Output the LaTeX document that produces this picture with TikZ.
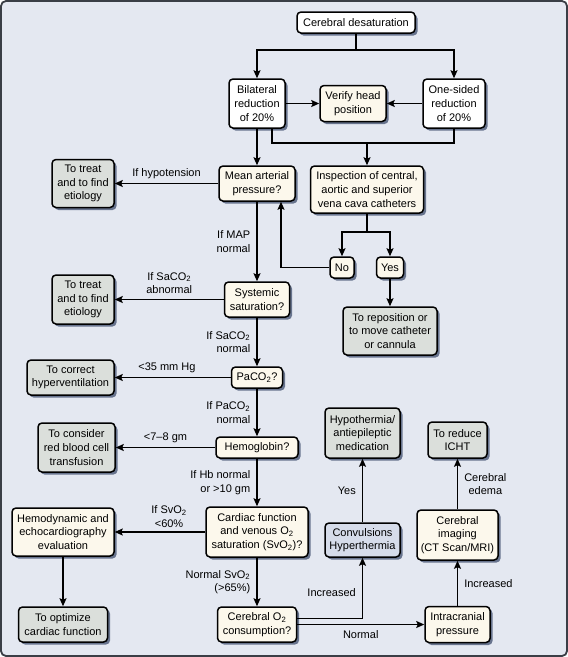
\documentclass[tikz,border=0pt]{standalone}
\usepackage{fontspec}
\setmainfont{Liberation Sans}
\usetikzlibrary{arrows.meta, positioning, shadows, calc}
\definecolor{panelblue}{RGB}{228, 232, 241}
\definecolor{framegray}{RGB}{58, 62, 70}
\definecolor{boxcream}{RGB}{252, 248, 236}
\definecolor{boxgray}{RGB}{219, 223, 219}
\definecolor{boxblue}{RGB}{214, 220, 234}
\definecolor{shadowblue}{RGB}{74, 88, 118}
\tikzstyle{box} = [draw=black, line width=1.5pt, rounded corners=4pt, align=center, inner sep=2pt, font=\fontsize{11}{13.6}\selectfont, drop shadow={shadow xshift=2.5pt, shadow yshift=-2.5pt, fill=shadowblue, opacity=0.8}]
\tikzstyle{startbox} = [box, fill=white]
\tikzstyle{askbox} = [box, fill=boxcream]
\tikzstyle{dobox} = [box, fill=boxgray]
\tikzstyle{signbox} = [box, fill=boxblue]
\tikzstyle{arrow} = [-{Stealth[length=8pt, width=7pt, inset=1.5pt]}, line width=1.5pt]
\tikzstyle{wire} = [line width=1.5pt]
\tikzstyle{lbl} = [font=\fontsize{11}{13.6}\selectfont, inner sep=2pt]

\begin{document}
\begin{tikzpicture}[x=1pt, y=-1pt]
    \useasboundingbox (0,0) rectangle (568,657);
    \draw[framegray, line width=1.8pt, fill=panelblue, rounded corners=5pt] (1,1) rectangle (567,656);

    % Top of the chart
    \node[startbox, minimum width=118pt, minimum height=21pt] (desat) at (356,22.5) {Cerebral desaturation};
    \node[startbox, minimum width=56pt, minimum height=49pt] (bilat) at (257,103.5) {Bilateral\\reduction\\of 20\%};
    \node[askbox, minimum width=66pt, minimum height=36pt] (verify) at (353,103.5) {Verify head\\position};
    \node[startbox, minimum width=62pt, minimum height=49pt] (onesided) at (454,103.5) {One-sided\\reduction\\of 20\%};

    % Main column
    \node[askbox, minimum width=76pt, minimum height=35pt] (map) at (257,183.5) {Mean arterial\\pressure?};
    \node[askbox, minimum width=65pt, minimum height=35pt] (sys) at (257,299.5) {Systemic\\saturation?};
    \node[askbox, minimum width=51pt, minimum height=21pt] (paco) at (257,377.5) {PaCO\textsubscript{2}?};
    \node[askbox, minimum width=82pt, minimum height=21pt] (hb) at (257,447.5) {Hemoglobin?};
    \node[askbox, minimum width=102pt, minimum height=50pt] (cardiac) at (257,532) {Cardiac function\\and venous O\textsubscript{2}\\saturation (SvO\textsubscript{2})?};
    \node[askbox, minimum width=79pt, minimum height=35pt] (cons) at (257,624.5) {Cerebral O\textsubscript{2}\\consumption?};

    % Left column
    \node[dobox, minimum width=62pt, minimum height=48pt] (treatA) at (83,183.5) {To treat\\and to find\\etiology};
    \node[dobox, minimum width=62pt, minimum height=49pt] (treatB) at (83,299.5) {To treat\\and to find\\etiology};
    \node[dobox, minimum width=87pt, minimum height=35pt] (hypervent) at (70.5,377.5) {To correct\\hyperventilation};
    \node[dobox, minimum width=77pt, minimum height=49pt] (rbc) at (76.5,447.5) {To consider\\red blood cell\\transfusion};
    \node[askbox, minimum width=102pt, minimum height=48pt] (hemo) at (63,532) {Hemodynamic and\\echocardiography\\evaluation};
    \node[dobox, minimum width=89pt, minimum height=35pt] (optimize) at (63,624.5) {To optimize\\cardiac function};

    % Catheter branch
    \node[askbox, minimum width=113pt, minimum height=47pt] (insp) at (367,189.5) {Inspection of central,\\aortic and superior\\vena cava catheters};
    \node[askbox, minimum width=24pt, minimum height=21pt] (no) at (342,267.5) {No};
    \node[askbox, minimum width=27pt, minimum height=21pt] (yes) at (390,267.5) {Yes};
    \node[dobox, minimum width=94pt, minimum height=48pt] (repos) at (390,331) {To reposition or\\to move catheter\\or cannula};

    % Lower right
    \node[dobox, minimum width=75pt, minimum height=50pt] (hypo) at (362.5,433) {Hypothermia/\\antiepileptic\\medication};
    \node[signbox, minimum width=75pt, minimum height=34pt] (conv) at (362.5,540) {Convulsions\\Hyperthermia};
    \node[dobox, minimum width=59pt, minimum height=36pt] (reduce) at (457.5,440) {To reduce\\ICHT};
    \node[askbox, minimum width=81pt, minimum height=50pt] (imaging) at (457.5,535) {Cerebral\\imaging\\(CT Scan/MRI)};
    \node[askbox, minimum width=65pt, minimum height=36pt] (icp) at (457.5,624.5) {Intracranial\\pressure};

    % Connectors at the top
    \coordinate (split) at (356,50);
    \coordinate (join) at (367,143);
    \coordinate (fork) at (367,232);
    \draw[wire] (desat) -- (split);
    \draw[arrow] (split) -| (bilat);
    \draw[arrow] (split) -| (onesided);
    \draw[arrow] (bilat) -- (verify);
    \draw[arrow] (onesided) -- (verify);
    \draw[arrow] (bilat) -- (map);
    \draw[wire] ([xshift=15pt]bilat.south) |- (join) -| (onesided.south);
    \draw[arrow] (join) -- (insp);
    \draw[wire] (insp) -- (fork);
    \draw[arrow] (fork) -| (no);
    \draw[arrow] (fork) -| (yes);
    \draw[arrow] (no) -| ([xshift=24pt]map.south);
    \draw[arrow] (yes) -- (repos);

    % Main column connectors
    \draw[arrow] (map) -- node[lbl, above, yshift=2pt] {If hypotension} (treatA);
    \draw[arrow] (map) -- node[lbl, left=4pt, align=right] {If MAP\\normal} (sys);
    \draw[arrow] (sys) -- node[lbl, above, yshift=3pt, align=center] {If SaCO\textsubscript{2}\\abnormal} (treatB);
    \draw[arrow] (sys) -- node[lbl, left=4pt, align=right] {If SaCO\textsubscript{2}\\normal} (paco);
    \draw[arrow] (paco) -- node[lbl, above, yshift=2pt, pos=0.55] {<35 mm Hg} (hypervent);
    \draw[arrow] (paco) -- node[lbl, left=4pt, align=right] {If PaCO\textsubscript{2}\\normal} (hb);
    \draw[arrow] (hb) -- node[lbl, above, yshift=2pt] {<7--8 gm} (rbc);
    \draw[arrow] (hb) -- node[lbl, left=4pt, align=right] {If Hb normal\\or >10 gm} (cardiac);
    \draw[arrow] (cardiac) -- node[lbl, above, yshift=2pt, pos=0.4, align=center] {If SvO\textsubscript{2}\\<60\%} (hemo);
    \draw[arrow] (cardiac) -- node[lbl, left=4pt, align=right] {Normal SvO\textsubscript{2}\\(>65\%)} (cons);
    \draw[arrow] (hemo) -- (optimize);

    % Lower right connectors
    \draw[arrow] ([yshift=6pt]cons.east) -| node[lbl, left=4pt, pos=0.71] {Increased} (conv);
    \draw[arrow] (conv) -- node[lbl, left=4pt] {Yes} (hypo);
    \draw[arrow] (cons) -- node[lbl, below=3pt] {Normal} (icp);
    \draw[arrow] (icp) -- node[lbl, right=4pt] {Increased} (imaging);
    \draw[arrow] (imaging) -- node[lbl, right=4pt, align=center] {Cerebral\\edema} (reduce);
\end{tikzpicture}
\end{document}
